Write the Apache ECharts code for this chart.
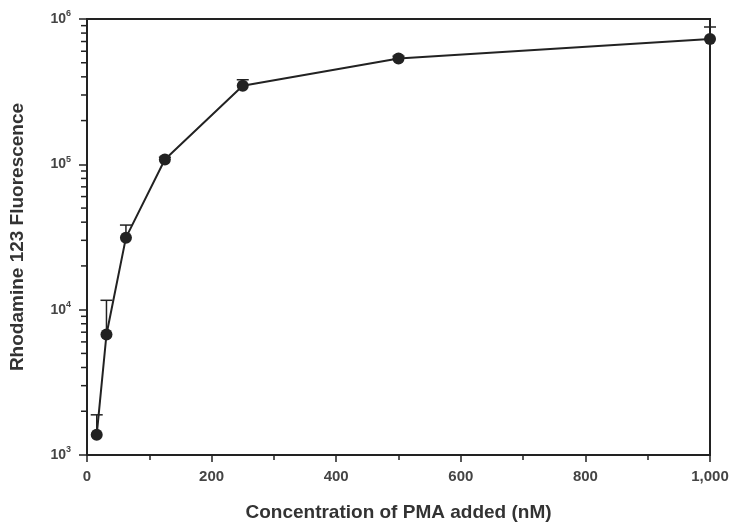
<!DOCTYPE html>
<html>
<head>
<meta charset="utf-8">
<script src="https://cdn.jsdelivr.net/npm/echarts@6/dist/echarts.min.js"></script>
<style>
  html, body { margin: 0; padding: 0; background: #fff; }
  #chart { width: 738px; height: 527px; }
</style>
</head>
<body>
<div id="chart"></div>
<script>
// PMA concentration (nM) and rhodamine 123 fluorescence
var concentration = [15.6, 31.25, 62.5, 125, 250, 500, 1000];
var fluorescence = [1380, 6750, 31300, 108000, 347000, 535000, 729000];
var errorUpper = [1890, 11600, 38200, 112000, 382000, 555000, 881000];
var yMinorTicks = [2000, 3000, 4000, 5000, 6000, 7000, 8000, 9000,
                   20000, 30000, 40000, 50000, 60000, 70000, 80000, 90000,
                   200000, 300000, 400000, 500000, 600000, 700000, 800000, 900000];

var ink = '#222';
var font = 'Liberation Sans';

var chart = echarts.init(document.getElementById('chart'));

var points = concentration.map(function (c, i) { return [c, fluorescence[i]]; });
var errData = concentration.map(function (c, i) { return [c, fluorescence[i], errorUpper[i]]; });

chart.setOption({
    animation: false,
    grid: {
        left: 87, right: 28, top: 19, bottom: 71,
        show: true, borderColor: ink, borderWidth: 2
    },
    xAxis: {
        type: 'value',
        min: 0, max: 1000, interval: 200,
        name: 'Concentration of PMA added (nM)',
        nameLocation: 'middle',
        nameGap: 48,
        nameTextStyle: { fontFamily: font, fontWeight: 'bold', fontSize: 19, color: '#333' },
        axisLine: { lineStyle: { color: ink, width: 2 } },
        axisTick: { length: 7, lineStyle: { color: ink, width: 1.5 } },
        minorTick: { show: true, splitNumber: 2, length: 5, lineStyle: { color: ink, width: 1.5 } },
        splitLine: { show: false },
        axisLabel: {
            margin: 14,
            fontFamily: font, fontWeight: 'bold', fontSize: 15, color: '#444',
            formatter: function (v) { return v >= 1000 ? '1,000' : String(v); }
        }
    },
    yAxis: {
        type: 'log',
        min: 1000, max: 1000000, logBase: 10,
        name: 'Rhodamine 123 Fluorescence',
        nameLocation: 'middle',
        nameGap: 60,
        nameRotate: 90,
        nameTextStyle: { fontFamily: font, fontWeight: 'bold', fontSize: 19, color: '#333' },
        axisLine: { lineStyle: { color: ink, width: 2 } },
        axisTick: { length: 8, lineStyle: { color: ink, width: 1.5 } },
        splitLine: { show: false },
        axisLabel: {
            margin: 16,
            formatter: function (v) {
                return '{b|10}{s|' + Math.round(Math.log10(v)) + '}';
            },
            rich: {
                b: { fontFamily: font, fontWeight: 'bold', fontSize: 14, color: '#444' },
                s: { fontFamily: font, fontWeight: 'bold', fontSize: 9, color: '#444', padding: [0, 0, 10, 0] }
            }
        }
    },
    series: [
        {
            // minor ticks of the log axis at 2..9 x 10^k
            type: 'custom',
            silent: true,
            data: yMinorTicks.map(function (v) { return [0, v]; }),
            renderItem: function (params, api) {
                var p = api.coord([0, api.value(1)]);
                return {
                    type: 'line',
                    shape: { x1: p[0] - 6, y1: p[1], x2: p[0], y2: p[1] },
                    style: { stroke: ink, lineWidth: 1.5 }
                };
            },
            z: 1
        },
        {
            type: 'custom',
            silent: true,
            data: errData,
            renderItem: function (params, api) {
                var lo = api.coord([api.value(0), api.value(1)]);
                var hi = api.coord([api.value(0), api.value(2)]);
                return {
                    type: 'group',
                    children: [
                        { type: 'line', shape: { x1: lo[0], y1: lo[1], x2: hi[0], y2: hi[1] },
                          style: { stroke: ink, lineWidth: 1.5 } },
                        { type: 'line', shape: { x1: hi[0] - 6, y1: hi[1], x2: hi[0] + 6, y2: hi[1] },
                          style: { stroke: ink, lineWidth: 1.5 } }
                    ]
                };
            },
            z: 2
        },
        {
            type: 'line',
            data: points,
            symbol: 'circle',
            symbolSize: 12,
            itemStyle: { color: ink },
            lineStyle: { color: ink, width: 2 },
            z: 3
        }
    ]
});
</script>
</body>
</html>
